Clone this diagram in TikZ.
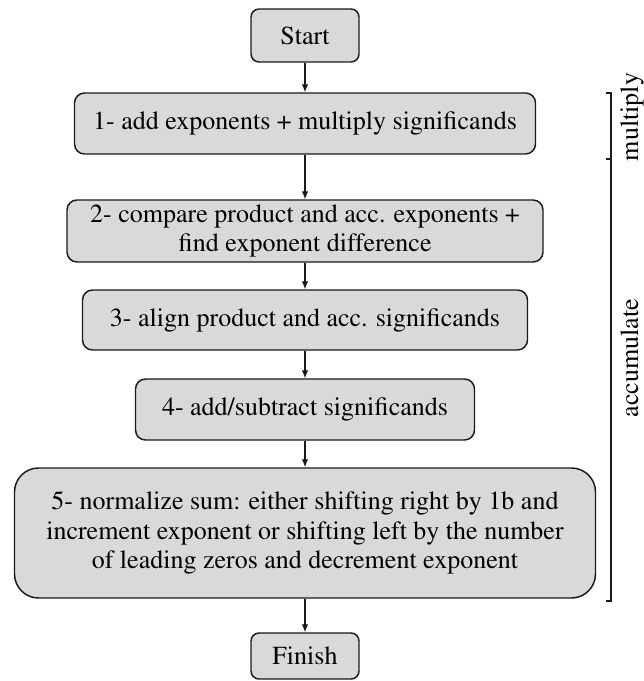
\documentclass[tikz,border=0pt]{standalone}
\usepackage[T1]{fontenc}
\usepackage{mathptmx}
\usetikzlibrary{arrows.meta}

\definecolor{boxfill}{HTML}{D9D9D9}
\definecolor{ink}{HTML}{1A1A1A}

\tikzset{
  stepbox/.style={draw=ink, fill=boxfill, line width=1.1pt, rounded corners=7.5pt,
    inner sep=0pt, align=center,
    font=\fontsize{19.5pt}{22.4pt}\selectfont},
  termbox/.style={stepbox, rounded corners=6pt},
  flow/.style={draw=ink, line width=0.9pt, -{Latex[length=6pt,width=5pt]}},
  bracketline/.style={draw=ink, line width=0.8pt},
  phase/.style={rotate=90, anchor=base, inner sep=0pt,
    font=\fontsize{19.5pt}{22.4pt}\selectfont}
}

\begin{document}
\begin{tikzpicture}[x=0.75pt, y=-0.75pt]
  \useasboundingbox (0,0) rectangle (643,681);

  % flow steps
  \node[termbox, minimum width=81pt, minimum height=39.75pt] (start) at (305,35.5) {Start};
  \node[stepbox, minimum width=345.75pt, minimum height=45.75pt] (s1) at (305,123.5)
    {1- add exponents + multiply significands};
  \node[stepbox, minimum width=357pt, minimum height=46.5pt] (s2) at (305,231)
    {2- compare product and acc. exponents +\\find exponent difference};
  \node[stepbox, minimum width=333.75pt, minimum height=45pt] (s3) at (305,320)
    {3- align product and acc. significands};
  \node[stepbox, minimum width=254.25pt, minimum height=45.75pt] (s4) at (305,409.5)
    {4- add/subtract significands};
  \node[stepbox, rounded corners=18pt, minimum width=435.75pt, minimum height=97.5pt] (s5) at (305,533)
    {5- normalize sum: either shifting right by 1b and\\increment exponent or shifting left by the number\\of leading zeros and decrement exponent};
  \node[termbox, minimum width=81pt, minimum height=34.5pt] (finish) at (305,656) {Finish};

  % connectors
  \draw[flow] (start) -- (s1);
  \draw[flow] (s1) -- (s2);
  \draw[flow] (s2) -- (s3);
  \draw[flow] (s3) -- (s4);
  \draw[flow] (s4) -- (s5);
  \draw[flow] (s5) -- (finish);

  % phase bracket on the right
  \coordinate (btop) at (611,93);
  \coordinate (bmid) at (611,159);
  \coordinate (bbot) at (611,601);
  \draw[bracketline] ([xshift=-4pt]btop) -- (btop) -- (bbot) -- ([xshift=-4pt]bbot);
  \draw[bracketline] ([xshift=-4pt]bmid) -- (bmid);

  \node[phase] (lmul) at (638,117) {multiply};
  \node[phase] (lacc) at (638,358) {accumulate};
\end{tikzpicture}
\end{document}
